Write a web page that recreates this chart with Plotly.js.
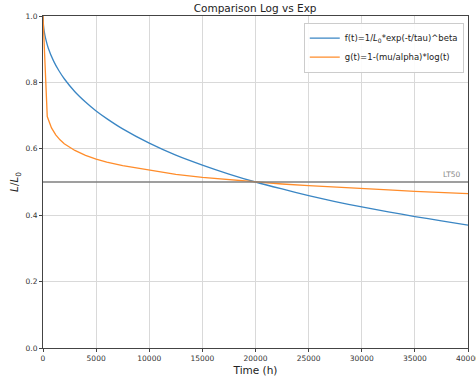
<!DOCTYPE html>
<html>
<head>
<meta charset="utf-8">
<script src="https://cdn.plot.ly/plotly-3.0.1.min.js"></script>
<style>html,body{margin:0;padding:0;background:#fff;overflow:hidden}#chart{width:476px;height:380px}</style>
</head>
<body>
<div id="chart"></div>
<script>
// Time (h)
const timeExp = [0, 50, 100, 250, 500, 1000, 1500, 2000, 3000, 4000, 5000, 6000, 7500, 10000, 12500, 15000, 17500, 20000, 22500, 25000, 27500, 30000, 32500, 35000, 37500, 40000];
// f(t) values
const expValues = [1.0, 0.970, 0.957, 0.932, 0.903, 0.864, 0.835, 0.811, 0.772, 0.741, 0.714, 0.691, 0.660, 0.617, 0.581, 0.551, 0.524, 0.500, 0.479, 0.459, 0.441, 0.425, 0.410, 0.396, 0.383, 0.370];
// Time (h) for the log curve
const timeLog = [0, 400, 800, 1200, 1600, 2000, 3000, 4000, 5000, 6000, 7500, 10000, 12500, 15000, 17500, 20000, 22500, 25000, 27500, 30000, 32500, 35000, 37500, 40000];
// g(t) values
const logValues = [1.0, 0.697, 0.663, 0.642, 0.627, 0.615, 0.595, 0.580, 0.569, 0.560, 0.549, 0.535, 0.523, 0.514, 0.507, 0.500, 0.494, 0.489, 0.484, 0.480, 0.476, 0.472, 0.469, 0.465];
const lt50Level = 0.5;
const xTicks = [0, 5000, 10000, 15000, 20000, 25000, 30000, 35000, 40000];
const yTicks = [0.0, 0.2, 0.4, 0.6, 0.8, 1.0];
const yTickText = ['0.0', '0.2', '0.4', '0.6', '0.8', '1.0'];

const traces = [
  {x: timeExp, y: expValues, type: 'scatter', mode: 'lines', line: {color: '#3a86c4', width: 1.3, shape: 'spline', smoothing: 0.6},
   name: 'f(t)=1/<i>L</i><sub>0</sub>*exp(-t/tau)^beta'},
  {x: timeLog, y: logValues, type: 'scatter', mode: 'lines', line: {color: '#ff8c2a', width: 1.3},
   name: 'g(t)=1-(mu/alpha)*log(t)'}
];

const axisCommon = {
  showgrid: true, gridcolor: '#d9d9d9', gridwidth: 1,
  showline: true, mirror: true, linecolor: '#444', linewidth: 1,
  ticks: 'outside', ticklen: 3, tickcolor: '#444',
  tickfont: {family: 'DejaVu Sans', size: 7.5, color: '#333'},
  ticklabeloverflow: 'allow',
  zeroline: false
};

const layout = {
  width: 476, height: 380,
  margin: {l: 43, r: 8, t: 16, b: 32},
  paper_bgcolor: '#fff', plot_bgcolor: '#fff',
  title: {text: 'Comparison Log vs Exp', font: {family: 'DejaVu Sans', size: 10.5, color: '#222'}, x: 0.536, xanchor: 'center', y: 0.988, yanchor: 'top'},
  xaxis: Object.assign({}, axisCommon, {range: [0, 40000], tickvals: xTicks, ticktext: xTicks.map(String),
    title: {text: 'Time (h)', font: {family: 'DejaVu Sans', size: 10.5, color: '#222'}, standoff: 4}}),
  yaxis: Object.assign({}, axisCommon, {range: [0, 1], tickvals: yTicks, ticktext: yTickText,
    title: {text: '<i>L</i>/<i>L</i><sub>0</sub>', font: {family: 'DejaVu Sans', size: 10.5, color: '#222'}, standoff: 4}}),
  showlegend: true,
  legend: {x: 0.99, xanchor: 'right', y: 0.98, yanchor: 'top', bgcolor: 'rgba(255,255,255,0.9)', bordercolor: '#ccc', borderwidth: 1,
    font: {family: 'DejaVu Sans', size: 8.5, color: '#222'}, tracegroupgap: 0, itemwidth: 30},
  shapes: [{type: 'line', xref: 'paper', x0: 0, x1: 1, yref: 'y', y0: lt50Level, y1: lt50Level, line: {color: '#7f7f7f', width: 1.3}}],
  annotations: [{xref: 'x', yref: 'y', x: 38400, y: lt50Level, yshift: 8, text: 'LT50', showarrow: false,
    font: {family: 'DejaVu Sans', size: 7.5, color: '#888'}}]
};

Plotly.newPlot('chart', traces, layout, {displayModeBar: false, staticPlot: true});
</script>
</body>
</html>
